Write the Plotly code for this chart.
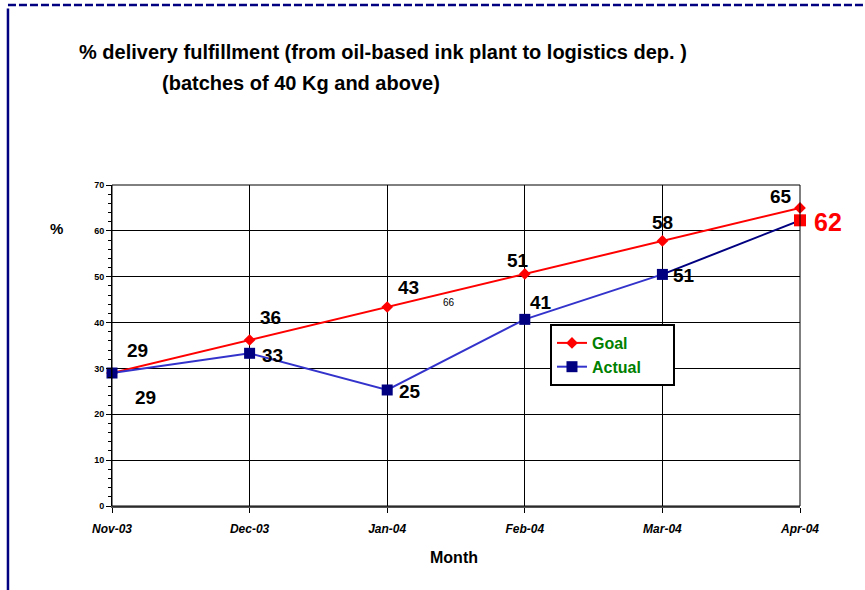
import plotly.graph_objects as go

months = ["Nov-03", "Dec-03", "Jan-04", "Feb-04", "Mar-04", "Apr-04"]
goal = [29, 36.2, 43.4, 50.6, 57.8, 65]
actual = [29, 33.3, 25.3, 40.7, 50.5, 62.3]
goal_labels = ["29", "36", "43", "51", "58", "65"]
actual_labels = ["29", "33", "25", "41", "51", "62"]
series_names = ["Goal", "Actual"]
y_ticks = [0, 10, 20, 30, 40, 50, 60, 70]

xi = list(range(len(months)))

# label offsets in pixels (style only)
goal_off = [(25, 23), (21, 23), (21, 19), (-7, 13), (0, 18), (-19, 11)]
act_off = [(33, -24), (23, -2), (23, -2), (16, 17), (22, -1), (28, -2)]

FONT = "Arial, Liberation Sans, sans-serif"
PAD = "\u00a0" * 6  # extra right padding inside the legend box

fig = go.Figure()
fig.add_trace(go.Scatter(
    x=xi, y=goal, name=series_names[0] + PAD, mode="lines+markers",
    line=dict(color="#ff0000", width=2),
    marker=dict(symbol="diamond", size=9, color="#ff0000"),
    cliponaxis=False,
))
fig.add_trace(go.Scatter(
    x=xi[:-1], y=actual[:-1], name=series_names[1] + PAD, mode="lines+markers",
    line=dict(color="#3333cc", width=2),
    marker=dict(symbol="square", size=11, color="#000080"),
    cliponaxis=False,
))
fig.add_trace(go.Scatter(
    x=xi[-2:], y=actual[-2:], mode="lines", showlegend=False,
    line=dict(color="#000080", width=2), hoverinfo="skip",
))
fig.add_trace(go.Scatter(
    x=xi[-1:], y=actual[-1:], mode="markers", showlegend=False,
    marker=dict(symbol="square", size=12, color="#ff0000"),
    cliponaxis=False,
))

ann = []
for i in xi:
    dx, dy = goal_off[i]
    ann.append(dict(x=i, y=goal[i], text=goal_labels[i], showarrow=False,
                    xshift=dx, yshift=dy,
                    font=dict(family=FONT, size=19, color="black", weight="bold")))
for i in xi:
    dx, dy = act_off[i]
    last = i == len(xi) - 1
    ann.append(dict(x=i, y=actual[i], text=actual_labels[i], showarrow=False,
                    xshift=dx, yshift=dy,
                    font=dict(family=FONT, size=25 if last else 19,
                              color="#ff0000" if last else "black", weight="bold")))
# stray small label
ann.append(dict(x=2.45, y=44.3, text="66", showarrow=False,
                font=dict(family=FONT, size=10, color="black")))
# titles
ann.append(dict(xref="paper", yref="paper", x=-0.051, y=1.414, xanchor="left", yanchor="middle",
                text="% delivery fulfillment (from oil-based ink plant to logistics dep. )",
                showarrow=False, font=dict(family=FONT, size=20, color="black", weight="bold")))
ann.append(dict(xref="paper", yref="paper", x=0.0698, y=1.318, xanchor="left", yanchor="middle",
                text="(batches of 40 Kg and above)",
                showarrow=False, font=dict(family=FONT, size=20, color="black", weight="bold")))
ann.append(dict(xref="paper", yref="paper", x=-0.081, y=0.864, xanchor="center", yanchor="middle",
                text="%", showarrow=False, font=dict(family=FONT, size=15, color="black", weight="bold")))
ann.append(dict(xref="paper", yref="paper", x=0.497, y=-0.159, xanchor="center", yanchor="middle",
                text="Month", showarrow=False, font=dict(family=FONT, size=16, color="black", weight="bold")))

shapes = [
    dict(type="line", xref="paper", yref="paper", x0=-0.1512, x1=1.2, y0=1.5607, y1=1.5607,
         line=dict(color="#000080", width=2.5, dash="8px,3px")),
    dict(type="line", xref="paper", yref="paper", x0=-0.1512, x1=-0.1512, y0=1.55, y1=-0.3,
         line=dict(color="#000080", width=2.5)),
    dict(type="rect", xref="paper", yref="paper", x0=0, x1=1, y0=0, y1=1,
         line=dict(color="black", width=1)),
]

fig.update_layout(
    width=865, height=590,
    margin=dict(l=112, r=65, t=185, b=84),
    paper_bgcolor="white", plot_bgcolor="white",
    showlegend=True,
    legend=dict(x=0.6366, y=0.567, xanchor="left", yanchor="top",
                bgcolor="white", bordercolor="black", borderwidth=2,
                font=dict(family=FONT, size=16, color="#008000", weight="bold"),
                tracegroupgap=0, itemwidth=30),
    annotations=ann,
    shapes=shapes,
    xaxis=dict(range=[0, 5], tickvals=xi, ticktext=months, showgrid=True,
               gridcolor="black", gridwidth=1, zeroline=False,
               ticks="outside", ticklen=5, tickcolor="black", ticklabelstandoff=6,
               showline=True, linecolor="#555", linewidth=2,
               tickfont=dict(family=FONT, size=12, color="black", weight="bold", style="italic")),
    yaxis=dict(range=[0, 70], tickvals=y_ticks, showgrid=True,
               gridcolor="black", gridwidth=1, zeroline=False,
               ticks="outside", ticklen=5, tickcolor="black",
               showline=True, linecolor="black", linewidth=1,
               minor=dict(dtick=2, ticks="outside", ticklen=3, tickcolor="black", showgrid=False),
               tickfont=dict(family=FONT, size=9, color="black", weight="bold")),
)

fig.write_html("out.html")
